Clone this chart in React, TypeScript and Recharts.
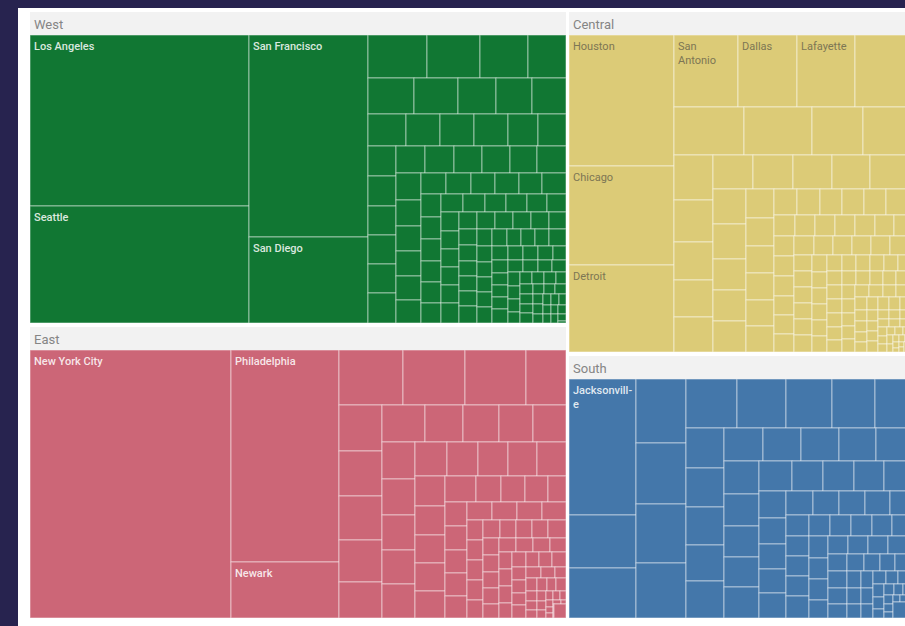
import { Treemap } from 'recharts';

// regions, largest first (Treemap keeps the given order)
const regionNames = ['West', 'East', 'Central', 'South'];

const westCities = ['Los Angeles', 'Seattle', 'San Francisco', 'San Diego'];
const westValues = [
  37500, 25500, 24000, 10150, 2540, 2280, 2060, 1680, 1660, 1580, 1370, 1300, 1260, 1220, 1090,
  1085, 1080, 960, 930, 845, 835, 825, 815, 805, 790, 785, 775, 765, 755, 740, 725, 665, 650, 635,
  620, 605, 590, 530, 520, 510, 500, 490, 480, 470, 440, 435, 425, 415, 405, 400, 390, 380, 370,
  360, 350, 340, 330, 328, 325, 320, 315, 310, 308, 305, 303, 300, 298, 296, 294, 270, 266, 262,
  258, 254, 250, 246, 243, 240, 237, 234, 231, 228, 225, 222, 219, 216, 214, 211, 207, 204, 199,
  196, 191, 187, 183, 178, 174, 171, 166, 161, 157, 152, 149, 143, 139, 135, 130, 127, 121, 118,
  113, 108, 105, 99, 96, 91, 88, 83, 79, 76, 71, 67, 62, 59, 55, 51, 47, 43, 39, 36, 31, 28, 24,
  21, 17, 13,
];

const eastCities = ['New York City', 'Philadelphia', 'Newark'];
const eastValues = [
  54140, 23110, 6100, 3530, 3420, 3360, 2300, 1980, 1940, 1890, 1800, 1720, 1600, 1410, 1330,
  1260, 1250, 1240, 1200, 1180, 1140, 1120, 1110, 1050, 1020, 1010, 910, 900, 880, 860, 850, 830,
  810, 650, 620, 590, 540, 530, 528, 520, 515, 505, 460, 455, 450, 440, 330, 328, 325, 322, 318,
  300, 298, 295, 292, 290, 272, 266, 261, 257, 249, 246, 241, 236, 231, 228, 223, 219, 214, 209,
  204, 198, 193, 187, 181, 174, 167, 161, 153, 146, 139, 131, 124, 117, 109, 102, 95, 88, 81, 74,
  67, 61, 55, 49, 43, 37, 31, 26, 21, 16,
];

const centralCities = ['Houston', 'Chicago', 'Detroit', 'San Antonio', 'Dallas', 'Lafayette'];
const centralValues = [
  13650, 10290, 9240, 4615, 4260, 4189, 3905, 3337, 3243, 2444, 2209, 1755, 1638, 1482, 1440,
  1400, 1360, 1350, 1320, 1290, 1280, 1150, 1140, 1030, 1020, 940, 800, 780, 760, 750, 730, 716,
  600, 590, 580, 570, 560, 550, 430, 425, 418, 412, 408, 405, 400, 395, 390, 388, 385, 382, 378,
  370, 368, 367, 366, 364, 362, 295, 292, 288, 285, 282, 280, 250, 246, 243, 240, 236, 234, 231,
  228, 225, 221, 219, 216, 212, 209, 207, 203, 200, 197, 195, 192, 188, 186, 184, 180, 177, 173,
  170, 168, 165, 162, 157, 153, 151, 147, 144, 140, 137, 133, 129, 125, 121, 117, 113, 109, 105,
  101, 97, 93, 89, 85, 81, 77, 73, 69, 65, 61, 57, 53, 49, 45, 41, 37, 33, 29, 25, 21, 17,
];

const southCities = ['Jacksonville'];
const southValues = [
  9316, 3604, 3468, 3264, 3111, 3009, 2856, 2562, 2436, 2310, 2142, 1790, 1540, 1520, 1480, 1400,
  1395, 1300, 1280, 1270, 1260, 1190, 1160, 1140, 1110, 1085, 1080, 1010, 960, 940, 920, 784,
  756, 728, 700, 672, 660, 650, 640, 630, 620, 490, 485, 478, 472, 467, 460, 455, 450, 445, 432,
  426, 420, 414, 408, 382, 376, 369, 364, 358, 331, 322, 309, 301, 289, 279, 262, 251, 241, 229,
  221, 208, 196, 184, 176, 163, 154, 146, 131, 119, 111, 98, 91, 79, 71, 58, 49, 41, 30, 22,
];

const cityNames: Record<string, string[]> = {
  West: westCities,
  East: eastCities,
  Central: centralCities,
  South: southCities,
};
const cityValues: Record<string, number[]> = {
  West: westValues,
  East: eastValues,
  Central: centralValues,
  South: southValues,
};

const regionData = regionNames.map((r) => ({
  name: r,
  size: cityValues[r].reduce((a, b) => a + b, 0),
}));

const cityData = (r: string) =>
  cityValues[r].map((v, i) => ({ name: cityNames[r][i] ?? '', size: v }));

const COLORS: Record<string, string> = {
  West: '#117733',
  East: '#cc6677',
  Central: '#dccb77',
  South: '#4477aa',
};
const LABEL_COLORS: Record<string, string> = {
  West: 'rgba(255,255,255,0.85)',
  East: 'rgba(255,255,255,0.85)',
  Central: '#7d7654',
  South: 'rgba(255,255,255,0.85)',
};

const FONT = 'Roboto, "Noto Sans", sans-serif';
const HEADER = 23;
const GAP_X = 3;
const GAP_Y = 4;

let measureCtx: CanvasRenderingContext2D | null = null;
function textWidth(s: string, font: string) {
  if (!measureCtx) measureCtx = document.createElement('canvas').getContext('2d');
  if (!measureCtx) return s.length * 6;
  measureCtx.font = font;
  return measureCtx.measureText(s).width;
}

// word wrap, breaking long words with a hyphen like the original
function wrap(label: string, maxW: number, font: string) {
  const lines: string[] = [];
  let cur = '';
  for (const word of label.split(' ')) {
    const t = cur ? `${cur} ${word}` : word;
    if (textWidth(t, font) <= maxW) {
      cur = t;
      continue;
    }
    if (cur) lines.push(cur);
    let w = word;
    while (w.length > 2 && textWidth(w, font) > maxW) {
      let k = w.length - 1;
      while (k > 1 && textWidth(`${w.slice(0, k)}-`, font) > maxW) k--;
      lines.push(`${w.slice(0, k)}-`);
      w = w.slice(k);
    }
    cur = w;
  }
  if (cur) lines.push(cur);
  return lines;
}

const cellRenderer = (region: string) => (p: any) => {
  if (p.depth !== 1) return <g />;
  const { x, y, width, height, name } = p;
  const weight = region === 'Central' ? 400 : 500;
  const font = `${weight} 11px Roboto`;
  const lines = name && width > 20 && height > 18 ? wrap(name, width - 7, font) : [];
  return (
    <g>
      <rect
        x={x}
        y={y}
        width={width}
        height={height}
        fill={COLORS[region]}
        stroke="rgba(255,255,255,0.5)"
        strokeWidth={1}
      />
      {lines.map((l, i) => (
        <text
          key={i}
          x={x + 4}
          y={y + 15 + i * 14}
          fontSize={11}
          fontWeight={weight}
          fontFamily={FONT}
          fill={LABEL_COLORS[region]}
        >
          {l}
        </text>
      ))}
    </g>
  );
};

const renderRegion = (p: any) => {
  if (p.depth !== 1) return <g />;
  const { x, y, width, height, name } = p;
  const w = width - GAP_X;
  const h = height - HEADER - GAP_Y;
  return (
    <g>
      <rect x={x} y={y} width={w} height={HEADER} fill="#f2f2f2" />
      <text x={x + 4} y={y + 16.5} fontSize={13} fontFamily={FONT} fill="#858585">
        {name}
      </text>
      <foreignObject x={x} y={y + HEADER} width={w} height={h}>
        <Treemap
          width={w}
          height={h}
          data={cityData(name)}
          dataKey="size"
          nameKey="name"
          aspectRatio={1}
          isAnimationActive={false}
          content={cellRenderer(name)}
        />
      </foreignObject>
    </g>
  );
};

export default function App() {
  return (
    <div style={{ position: 'fixed', inset: 0, background: '#27234f', overflow: 'hidden' }}>
      <div
        style={{
          position: 'absolute',
          left: 18,
          top: 8,
          width: 1000,
          height: 700,
          background: '#ffffff',
        }}
      >
        <div style={{ position: 'absolute', left: 12, top: 4 }}>
          <Treemap
            width={883}
            height={610}
            data={regionData}
            dataKey="size"
            nameKey="name"
            aspectRatio={1}
            isAnimationActive={false}
            content={renderRegion}
          />
        </div>
      </div>
    </div>
  );
}
